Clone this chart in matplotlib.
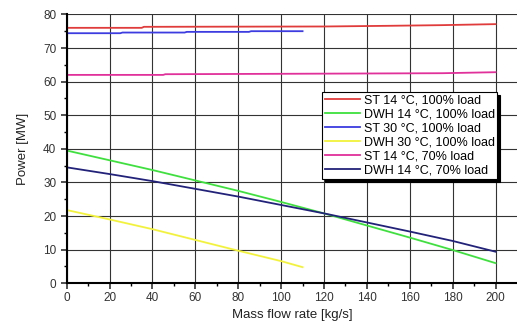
import matplotlib.pyplot as plt
import numpy as np

plt.rcParams['font.family'] = ['Liberation Sans', 'DejaVu Sans']

# data
st14_x = [0, 35, 36, 120, 150, 175, 200]
st14_y = [76.0, 76.0, 76.3, 76.4, 76.6, 76.8, 77.1]

dwh14_x = [0, 20, 40, 60, 80, 100, 120, 140, 160, 180, 200]
dwh14_y = [39.5, 36.6, 33.7, 30.6, 27.5, 24.2, 20.8, 17.2, 13.6, 9.9, 6.0]

st30_x = [0, 25, 26, 55, 56, 85, 86, 110]
st30_y = [74.4, 74.4, 74.6, 74.6, 74.8, 74.8, 75.0, 75.0]

dwh30_x = [0, 20, 40, 60, 80, 100, 110]
dwh30_y = [21.8, 19.0, 16.1, 12.9, 9.7, 6.6, 4.8]

st14_70_x = [0, 45, 46, 175, 200]
st14_70_y = [62.0, 62.0, 62.2, 62.5, 62.8]

dwh14_70_x = [0, 20, 40, 60, 80, 100, 120, 140, 160, 180, 200]
dwh14_70_y = [34.5, 32.5, 30.4, 28.1, 25.8, 23.3, 20.8, 18.1, 15.4, 12.6, 9.4]

labels = ['ST 14 °C, 100% load', 'DWH 14 °C, 100% load', 'ST 30 °C, 100% load',
          'DWH 30 °C, 100% load', 'ST 14 °C, 70% load', 'DWH 14 °C, 70% load']
colors = ['#e03c3c', '#3ee03e', '#3c3ce0', '#f2f23a', '#e0309a', '#22227a']

fig = plt.figure(figsize=(5.17, 3.24), dpi=100)
ax = fig.add_axes([0.129, 0.1256, 0.871, 0.83])

series = [(st14_x, st14_y), (dwh14_x, dwh14_y), (st30_x, st30_y),
          (dwh30_x, dwh30_y), (st14_70_x, st14_70_y), (dwh14_70_x, dwh14_70_y)]
for (x, y), lab, c in zip(series, labels, colors):
    ax.plot(x, y, color=c, lw=1.3, label=lab)

ax.set_xlim(0, 210)
ax.set_ylim(0, 80)
ax.set_xticks(np.arange(0, 201, 20))
ax.set_yticks(np.arange(0, 81, 10))
ax.set_xticks(np.arange(10, 201, 20), minor=True)
ax.set_yticks(np.arange(5, 80, 10), minor=True)
ax.grid(True, which='major', color='#333333', lw=0.8)
ax.set_axisbelow(True)

ax.spines['top'].set_visible(False)
ax.spines['right'].set_visible(False)
ax.spines['left'].set_linewidth(1.5)
ax.spines['bottom'].set_linewidth(1.5)
ax.tick_params(which='major', length=4, width=1.2, labelsize=8.5, colors='#333333')
ax.tick_params(which='minor', length=2.5, width=1)
ax.tick_params(axis='x', which='major', pad=2)

ax.set_xlabel('Mass flow rate [kg/s]', fontsize=9.5, color='#222222', labelpad=4)
ax.set_ylabel('Power [MW]', fontsize=9.5, color='#222222', labelpad=10)

leg = ax.legend(loc='upper right', bbox_to_anchor=(0.956, 0.711), borderaxespad=0,
                fontsize=9, handlelength=2.8, handletextpad=0.3, labelspacing=0.16,
                borderpad=0.2, fancybox=False, framealpha=1, edgecolor='black',
                shadow={'color': 'black', 'alpha': 1})
leg.get_frame().set_linewidth(0.8)

fig.savefig('out.png', dpi=100)
